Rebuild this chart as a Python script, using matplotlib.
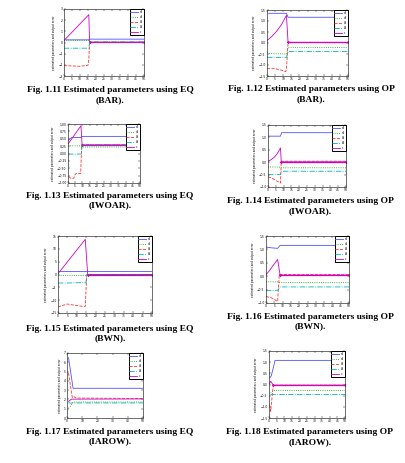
import matplotlib
matplotlib.use("Agg")
import matplotlib.pyplot as plt

W, H = 405, 463
fig = plt.figure(figsize=(W / 100, H / 100), dpi=100)

labels = ["a1", "a2", "b1", "b2", "c"]
colors = ["#5050ff", "#00a000", "#ff3333", "#00b5b5", "#cc00cc"]
styles = ["-", ":", "--", "-.", "-"]

# ---- Fig 1.11 (EQ, BAR) ----
p11_x = {"blue": [0, 15.5, 16, 50], "green": [0, 15.5, 16, 50], "red": [0, 5, 10, 15, 15.5, 16, 50],
         "cyan": [0, 15.5, 16, 50], "mag": [0, 15.5, 16, 50]}
p11_y = {"blue": [0.24, 0.24, 0.3, 0.3], "green": [0.18, 0.18, 0.0, 0.0],
         "red": [-2.07, -2.1, -2.13, -2.04, -1.5, 0.0, 0.0],
         "cyan": [-0.51, -0.51, 0.06, 0.06], "mag": [0.18, 2.49, 0.03, 0.03]}
p11_ylim, p11_yticks = (-3, 3), [-3, -2, -1, 0, 1, 2, 3]

# ---- Fig 1.12 (OP, BAR) ----
p12_x = {"blue": [1, 12, 13, 50], "green": [0, 2, 12, 13, 50], "red": [0, 4, 8, 11.5, 12, 13, 50],
         "cyan": [0, 12, 13, 50], "mag": [0, 3, 6, 9, 12, 13, 50]}
p12_y = {"blue": [1.35, 1.35, 1.17, 1.17], "green": [-0.44, -0.48, -0.5, -0.21, -0.21],
         "red": [-1.15, -1.155, -1.215, -1.3, -1.2, 0.015, 0.015],
         "cyan": [-0.65, -0.66, -0.39, -0.39], "mag": [0.105, 0.3, 0.54, 0.84, 1.26, 0.03, 0.03]}
p12_ylim, p12_yticks = (-1.5, 1.5), [-1.5, -1, -0.5, 0, 0.5, 1, 1.5]

# ---- Fig 1.13 (EQ, IWOAR) ----
p13_x = {"blue": [0, 2.5, 9, 10, 50], "green": [0, 9.5, 10, 50], "red": [0.5, 2, 4, 5, 6, 8.8, 9.5, 50],
         "cyan": [0, 9.3, 9.8, 50], "mag": [0, 9, 9.8, 50]}
p13_y = {"blue": [0.44, 0.54, 0.54, 0.58, 0.58], "green": [0.26, 0.26, 0.22, 0.22],
         "red": [-0.78, -0.84, -0.84, -0.7, -0.68, -0.68, 0.29, 0.29],
         "cyan": [-0.02, -0.02, 0.29, 0.29], "mag": [0.32, 0.94, 0.29, 0.29]}
p13_ylim, p13_yticks = (-1, 1), [-1, -0.75, -0.5, -0.25, 0, 0.25, 0.5, 0.75, 1]

# ---- Fig 1.14 (OP, IWOAR) ----
p14_x = {"blue": [0, 8, 8.7, 50], "green": [0, 8, 8.5, 50], "red": [0, 2, 4, 6, 8, 8.5, 50],
         "cyan": [0, 8, 8.5, 50], "mag": [0, 2, 4, 6, 8, 8.5, 50]}
p14_y = {"blue": [1.05, 1.05, 1.19, 1.19], "green": [-0.19, -0.2, -0.225, -0.225],
         "red": [-0.595, -0.625, -0.7, -0.775, -0.84, 0.04, 0.04],
         "cyan": [-0.5, -0.5, -0.365, -0.365], "mag": [0.04, 0.1, 0.2, 0.35, 0.575, 0.0125, 0.0125]}
p14_ylim, p14_yticks = (-1, 1.5), [-1, -0.5, 0, 0.5, 1, 1.5]

# ---- Fig 1.15 (EQ, BWN) ----
p15_x = {"blue": [0, 50], "green": [0, 50], "red": [0, 4.8, 12.8, 14.5, 15.3, 50],
         "cyan": [0, 5, 14, 14.8, 15.5, 50], "mag": [0, 14.5, 15.8, 50]}
p15_y = {"blue": [1.2, 1.2], "green": [-0.1, -0.1],
         "red": [-12.65, -11.5, -12.4, -12.4, 0.0, 0.0],
         "cyan": [-3.3, -3.3, -3.15, -3.3, 0.0, 0.0], "mag": [0.3, 13.7, 0.0, 0.0]}
p15_ylim, p15_yticks = (-15, 15), [-15, -10, -5, 0, 5, 10, 15]

# ---- Fig 1.16 (OP, BWN) ----
p16_x = {"blue": [0, 3, 7, 8.5, 50], "green": [0, 7, 8.5, 50], "red": [0, 3, 7, 8, 50],
         "cyan": [0, 7, 8.5, 50], "mag": [0, 2, 4, 7, 8.5, 50]}
p16_y = {"blue": [1.09, 1.06, 1.04, 1.15, 1.15], "green": [-0.21, -0.21, -0.24, -0.24],
         "red": [-0.76, -0.8, -0.94, 0.06, 0.06],
         "cyan": [-0.54, -0.525, -0.4, -0.4], "mag": [0.06, 0.2, 0.375, 0.625, 0.04, 0.04]}
p16_ylim, p16_yticks = (-1, 1.5), [-1, -0.5, 0, 0.5, 1, 1.5]

# ---- Fig 1.17 (EQ, IAROW) ----
p17_x = {"blue": [1, 4, 50], "green": [1, 2, 4, 50], "red": [1, 3.5, 4.5, 6, 50],
         "cyan": [1, 2, 4, 50], "mag": [1, 3, 50]}
p17_y = {"blue": [6.5, 3.2, 3.2], "green": [1.05, 1.2, 1.72, 1.72],
         "red": [4.85, 2.2, 2.3, 2.15, 2.1],
         "cyan": [1.75, 1.6, 1.62, 1.62], "mag": [1.8, 2.03, 2.05]}
p17_ylim, p17_yticks = (0, 7), [0, 1, 2, 3, 4, 5, 6, 7]

# ---- Fig 1.18 (OP, IAROW) ----
p18_x = {"blue": [0.5, 1.5, 2.5, 4, 50], "green": [1.1, 2.8, 50], "red": [0.3, 1.1, 2.8, 50],
         "cyan": [0.5, 50], "mag": [0.3, 1.1, 2.8, 50]}
p18_y = {"blue": [0.3, 0.39, 0.66, 1.08, 1.08], "green": [-0.39, -0.27, -0.27],
         "red": [-0.9, -1.2, -0.03, -0.03],
         "cyan": [-0.405, -0.405], "mag": [0.03, 0.15, -0.03, -0.03]}
p18_ylim, p18_yticks = (-1.5, 1.5), [-1.5, -1, -0.5, 0, 0.5, 1, 1.5]

xticks_a = [0, 5, 10, 15, 20, 25, 30, 35, 40, 45, 50]
xticks_b = [0, 10, 20, 30, 40, 50]

captions = [
    ("Fig. 1.11 Estimated parameters using EQ", "(BAR)."),
    ("Fig. 1.12 Estimated parameters using OP", "(BAR)."),
    ("Fig. 1.13 Estimated parameters using EQ", "(IWOAR)."),
    ("Fig. 1.14 Estimated parameters using OP", "(IWOAR)."),
    ("Fig. 1.15 Estimated parameters using EQ", "(BWN)."),
    ("Fig. 1.16 Estimated parameters using OP", "(BWN)."),
    ("Fig. 1.17 Estimated parameters using EQ", "(IAROW)."),
    ("Fig. 1.18 Estimated parameters using OP", "(IAROW)."),
]

# layout in pixels: (x0, x1, y0, y1), caption (cx, y_line1, y_line2), magenta post-jump index
panels = [
    (p11_x, p11_y, p11_ylim, p11_yticks, xticks_a, (64, 144, 9, 76), (110, 90, 100), 2),
    (p12_x, p12_y, p12_ylim, p12_yticks, xticks_a, (267, 348, 10, 76), (311, 89, 99), 5),
    (p13_x, p13_y, p13_ylim, p13_yticks, xticks_a, (68, 140, 124, 183), (110, 196, 205), 2),
    (p14_x, p14_y, p14_ylim, p14_yticks, xticks_a, (268, 346, 125, 187), (310, 201, 211), 5),
    (p15_x, p15_y, p15_ylim, p15_yticks, xticks_a, (58, 152, 236, 313), (110, 329, 338), 2),
    (p16_x, p16_y, p16_ylim, p16_yticks, xticks_a, (266, 349, 236, 303), (310, 317, 326), 4),
    (p17_x, p17_y, p17_ylim, p17_yticks, xticks_b, (67, 143, 353, 418), (110, 432, 441), None),
    (p18_x, p18_y, p18_ylim, p18_yticks, xticks_a, (269, 345, 351, 418), (310, 432, 442), 2),
]

keys = ["blue", "green", "red", "cyan", "mag"]

for (px, py, ylim, yticks, xticks, box, cap, mj), (c1, c2) in zip(panels, captions):
    x0, x1, y0, y1 = box
    ax = fig.add_axes([x0 / W, 1 - y1 / H, (x1 - x0) / W, (y1 - y0) / H])
    handles = []
    for k, lab, col, ls in zip(keys, labels, colors, styles):
        (h,) = ax.plot(px[k], py[k], color=col, ls=ls, lw=0.6, label=lab)
        handles.append(h)
    if mj is not None:
        ax.plot(px["mag"][mj:], py["mag"][mj:], color="#cc00cc", lw=0.9,
                marker="*", ms=1.2, markevery=0.025, zorder=1.9)
    ax.set_xlim(xticks[0], xticks[-1])
    ax.set_ylim(*ylim)
    ax.set_xticks(xticks)
    ax.set_yticks(yticks)
    ax.tick_params(direction="in", length=1.2, width=0.3, labelsize=2.2, pad=1,
                   top=True, right=True)
    for s in ax.spines.values():
        s.set_linewidth(0.5)
        s.set_color("#333333")
    ax.set_ylabel("estimated parameters and output error", fontsize=2.0, labelpad=1.5)
    leg = ax.legend(handles=handles, loc="upper right", fontsize=1.9, handlelength=3.0,
                    borderpad=0.3, labelspacing=0.35, handletextpad=0.5, fancybox=False,
                    framealpha=1, edgecolor="black", borderaxespad=0.15)
    leg.get_frame().set_linewidth(0.7)
    cx, ya, yb = cap
    for txt, yy in ((c1, ya), (c2, yb)):
        fig.text(cx / W, 1 - yy / H, txt, ha="center", va="center", fontsize=6.8,
                 fontweight="bold", family=["Liberation Serif", "DejaVu Serif"])

fig.savefig("out.png", dpi=100)
